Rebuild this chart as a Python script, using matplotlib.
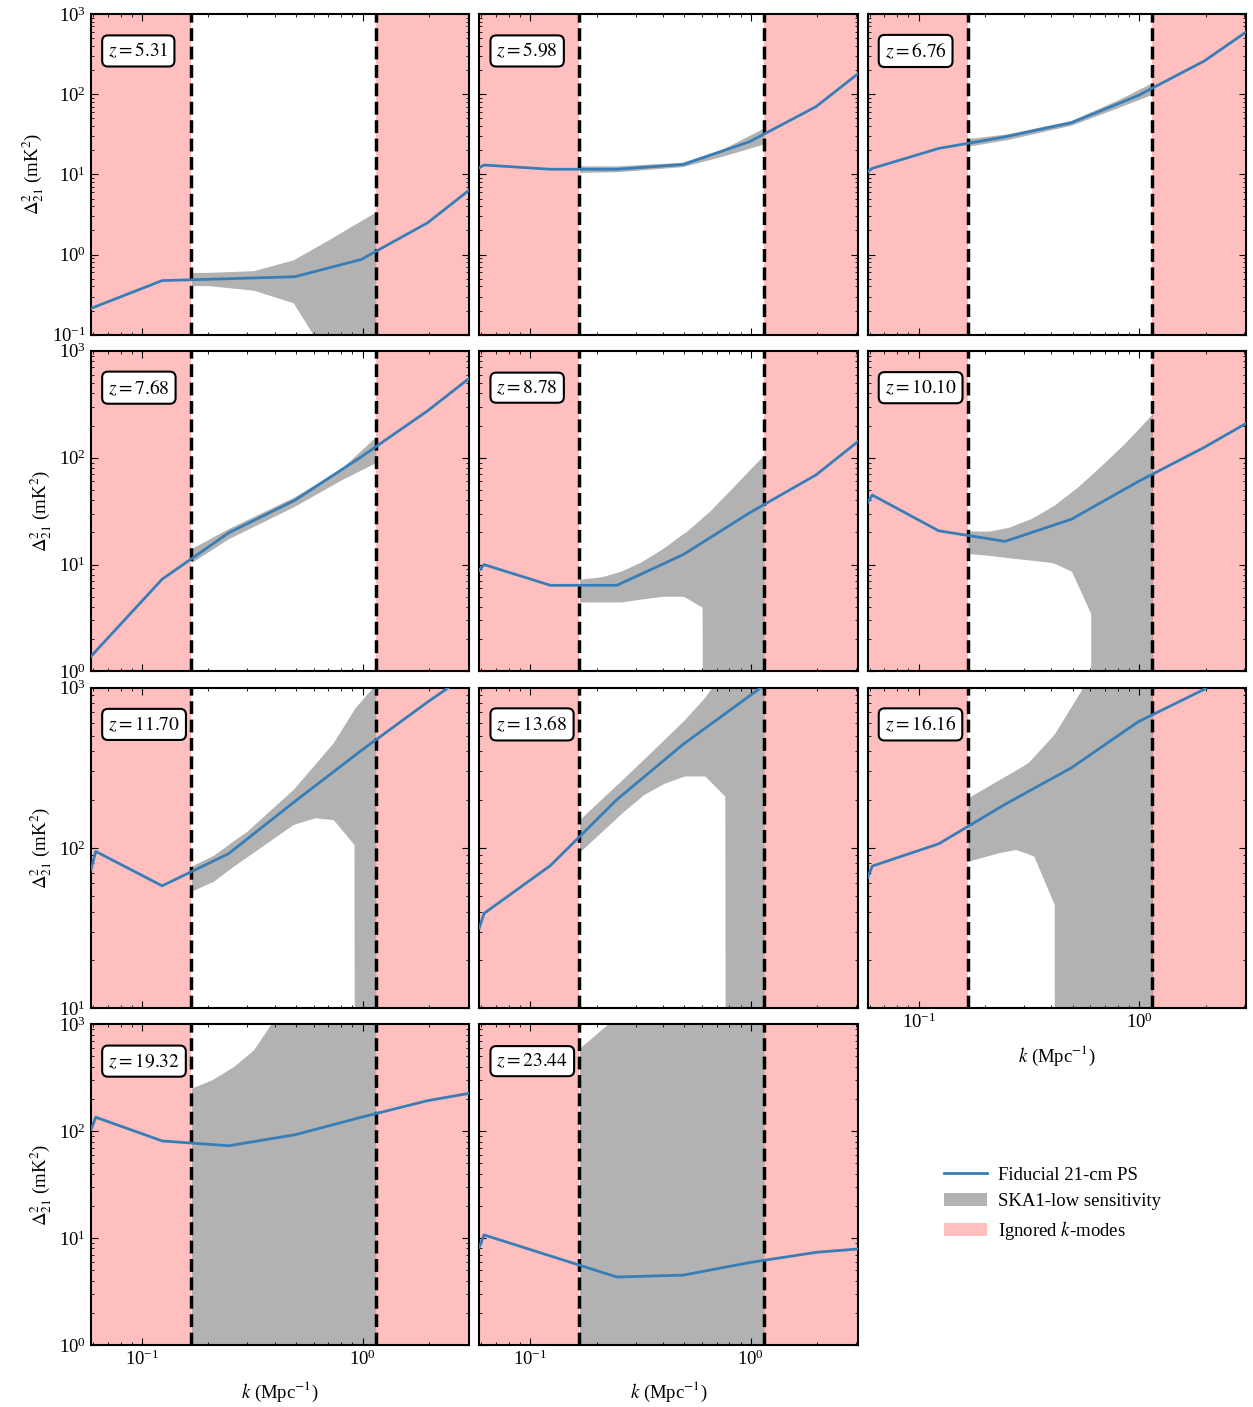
import matplotlib
matplotlib.use("Agg")
import matplotlib.pyplot as plt
from matplotlib.lines import Line2D
from matplotlib.patches import Patch

plt.rcParams['font.family'] = 'serif'
plt.rcParams['font.serif'] = ['Liberation Serif', 'DejaVu Serif']
plt.rcParams['mathtext.fontset'] = 'stix'
plt.rcParams['font.size'] = 13.5

# k grid of the fiducial power spectrum (Mpc^-1)
k_line = [0.0587, 0.0617, 0.1234, 0.2468, 0.4936, 0.987, 1.974, 3.05]
k_min, k_max = 0.0587, 3.05
k_cut_lo, k_cut_hi = 0.167, 1.146

redshifts = [5.31, 5.98, 6.76, 7.68, 8.78, 10.10, 11.70, 13.68, 16.16, 19.32, 23.44]

# fiducial 21-cm PS (mK^2) on k_line
ps_531 = [0.214, 0.225, 0.474, 0.50, 0.53, 0.87, 2.5, 6.4]
ps_598 = [12.1, 13.1, 11.6, 11.6, 13.3, 25.6, 70, 179]
ps_676 = [10.8, 11.9, 21.1, 29.4, 44.2, 96, 260, 596]
ps_768 = [1.38, 1.55, 7.3, 19.8, 40, 102, 275, 555]
ps_878 = [8.85, 10.0, 6.4, 6.4, 12.4, 30.5, 69, 141]
ps_1010 = [37.9, 44.7, 20.7, 16.5, 26.6, 59.6, 125, 209]
ps_1170 = [73, 95, 58, 92, 195, 405, 813, 1230]
ps_1368 = [31.6, 39, 77.6, 200, 443, 887, 1780, 2700]
ps_1616 = [65, 77, 106, 187, 316, 610, 975, 1800]
ps_1932 = [103, 135, 81, 73, 92.5, 135, 193, 226]
ps_2344 = [8.2, 10.7, 6.8, 4.32, 4.5, 5.9, 7.35, 7.9]

# SKA1-low sensitivity band: k, lower, upper
bk_531 = [0.167, 0.2, 0.32, 0.485, 0.6, 0.735, 0.9, 1.146]
lo_531 = [0.41, 0.41, 0.36, 0.25, 0.098, 1e-3, 1e-3, 1e-3]
hi_531 = [0.60, 0.60, 0.63, 0.86, 1.2, 1.65, 2.3, 3.4]

bk_598 = [0.167, 0.25, 0.49, 0.75, 1.146]
lo_598 = [10.6, 10.8, 12.5, 17, 24]
hi_598 = [12.8, 12.8, 14.2, 21, 38]

bk_676 = [0.167, 0.25, 0.49, 0.8, 1.146]
lo_676 = [22.5, 27, 41, 68, 100]
hi_676 = [28, 32, 47, 85, 140]

bk_768 = [0.167, 0.247, 0.49, 0.8, 1.146]
lo_768 = [10.4, 17.5, 35, 62, 90]
hi_768 = [14.1, 21.8, 43, 79, 157]

bk_878 = [0.167, 0.211, 0.258, 0.315, 0.40, 0.492, 0.508, 0.601, 0.606, 0.646, 0.82, 1.0, 1.146]
lo_878 = [4.47, 4.47, 4.47, 4.75, 5.06, 5.06, 4.9, 4.0, 1e-3, 1e-3, 1e-3, 1e-3, 1e-3]
hi_878 = [7.3, 7.7, 8.7, 10.5, 14.2, 19.5, 20.3, 27.4, 27.9, 31.2, 51.7, 79.5, 106]

bk_1010 = [0.167, 0.209, 0.255, 0.324, 0.396, 0.412, 0.493, 0.524, 0.603, 0.607, 0.665, 0.845, 1.03, 1.146]
lo_1010 = [12.7, 12.2, 11.6, 11.0, 10.5, 10.3, 8.67, 6.6, 3.49, 1e-3, 1e-3, 1e-3, 1e-3, 1e-3]
hi_1010 = [20.6, 20.6, 22.3, 27, 34.3, 36, 48, 52.8, 68.7, 69.5, 82.5, 131.5, 202, 257]

bk_1170 = [0.167, 0.211, 0.26, 0.299, 0.485, 0.608, 0.736, 0.914, 0.925, 1.146]
lo_1170 = [53.6, 62, 77, 88, 140, 154, 150, 105, 1e-3, 1e-3]
hi_1170 = [76.8, 90, 111, 127, 232, 333, 453, 730, 750, 1050]

bk_1368 = [0.167, 0.265, 0.327, 0.402, 0.5, 0.618, 0.762, 0.77, 1.146]
lo_1368 = [94, 169, 215, 252, 281, 281, 210, 1e-3, 1e-3]
hi_1368 = [150, 272, 358, 471, 630, 870, 1300, 1350, 3000]

bk_1616 = [0.167, 0.229, 0.275, 0.313, 0.333, 0.405, 0.412, 0.415, 0.567, 1.146]
lo_1616 = [82.5, 93, 97.7, 92, 88.7, 47, 44.3, 1e-3, 1e-3, 1e-3]
hi_1616 = [205, 264, 305, 340, 372, 499, 513, 520, 1050, 5000]

bk_1932 = [0.167, 0.207, 0.26, 0.32, 0.383, 0.45, 1.146]
lo_1932 = [1e-3, 1e-3, 1e-3, 1e-3, 1e-3, 1e-3, 1e-3]
hi_1932 = [252, 302, 402, 575, 1000, 2000, 1e5]

bk_2344 = [0.167, 0.224, 0.3, 1.146]
lo_2344 = [1e-3, 1e-3, 1e-3, 1e-3]
hi_2344 = [597, 1000, 3000, 1e5]

ps_all = [ps_531, ps_598, ps_676, ps_768, ps_878, ps_1010, ps_1170, ps_1368, ps_1616, ps_1932, ps_2344]
bands = [(bk_531, lo_531, hi_531), (bk_598, lo_598, hi_598), (bk_676, lo_676, hi_676),
         (bk_768, lo_768, hi_768), (bk_878, lo_878, hi_878), (bk_1010, lo_1010, hi_1010),
         (bk_1170, lo_1170, hi_1170), (bk_1368, lo_1368, hi_1368), (bk_1616, lo_1616, hi_1616),
         (bk_1932, lo_1932, hi_1932), (bk_2344, lo_2344, hi_2344)]

row_ylims = [(1e-1, 1e3), (1e0, 1e3), (1e1, 1e3), (1e0, 1e3)]

blue = '#377eb8'
pink = '#ffbfbf'

fig, axes = plt.subplots(4, 3, figsize=(12.53, 14.07), dpi=100)
plt.subplots_adjust(left=0.0726, right=0.9944, top=0.990, bottom=0.0441,
                    wspace=0.026, hspace=0.05)

for i, z in enumerate(redshifts):
    r, c = divmod(i, 3)
    ax = axes[r, c]
    ax.set_xscale('log')
    ax.set_yscale('log')
    ax.axvspan(k_min, k_cut_lo, color=pink, lw=0, zorder=0)
    ax.axvspan(k_cut_hi, k_max, color=pink, lw=0, zorder=0)
    bk, lo, hi = bands[i]
    ax.fill_between(bk, lo, hi, color='k', alpha=0.3, lw=0, zorder=1)
    ax.plot(k_line, ps_all[i], color=blue, lw=2, zorder=3)
    ax.axvline(k_cut_lo, color='k', ls='--', lw=2.5, zorder=2)
    ax.axvline(k_cut_hi, color='k', ls='--', lw=2.5, zorder=2)
    ax.set_xlim(k_min, k_max)
    ax.set_ylim(*row_ylims[r])
    ax.text(0.045, 0.885, '$z=%.2f$' % z, transform=ax.transAxes, ha='left', va='center',
            fontsize=14, zorder=5,
            bbox=dict(boxstyle='round,pad=0.3', fc='w', ec='k', lw=1.5))
    ax.tick_params(which='both', direction='in', top=True, right=True, labelsize=13.5)
    ax.tick_params(which='major', length=5)
    ax.tick_params(which='minor', length=2.5)
    for s in ax.spines.values():
        s.set_linewidth(1.5)
    if c == 0:
        ax.set_ylabel(r'$\Delta^2_{21}$ (mK$^2$)')
    else:
        ax.set_yticklabels([], minor=False)
        ax.set_yticklabels([], minor=True)
    if r == 3 or (r == 2 and c == 2):
        ax.set_xlabel(r'$k$ (Mpc$^{-1}$)', labelpad=8)
    else:
        ax.set_xticklabels([], minor=False)
        ax.set_xticklabels([], minor=True)

axes[3, 2].axis('off')

handles = [Line2D([], [], color=blue, lw=2),
           Patch(facecolor='k', alpha=0.3, lw=0),
           Patch(facecolor=pink, lw=0)]
labels = ['Fiducial 21-cm PS', 'SKA1-low sensitivity', 'Ignored $k$-modes']
fig.legend(handles, labels, loc='center', bbox_to_anchor=(0.84, 0.144),
           frameon=False, fontsize=13.5, handlelength=2.3, handletextpad=0.6)

fig.savefig('out.png', dpi=100)
